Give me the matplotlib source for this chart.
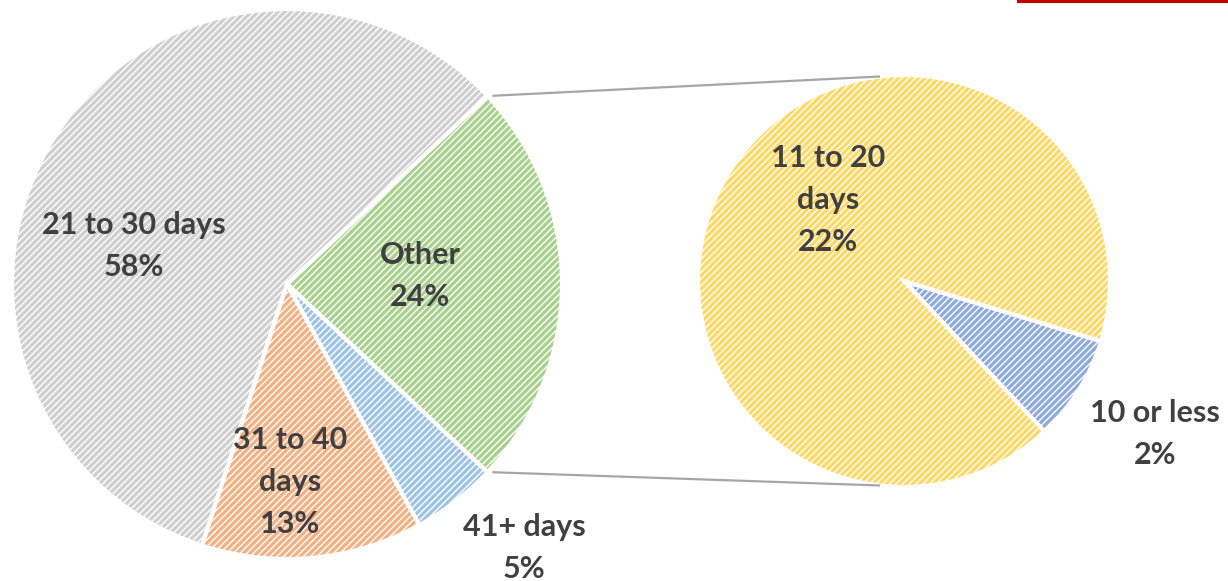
import numpy as np
import matplotlib
matplotlib.use("Agg")
import matplotlib.pyplot as plt

plt.rcParams['font.family'] = ['Lato', 'DejaVu Sans']
plt.rcParams['hatch.linewidth'] = 1.0

# main pie (counter-clockwise from the start angle)
main_labels = ["Other", "21 to 30 days", "31 to 40\ndays", "41+ days"]
main_values = [24, 58, 13, 5]
main_colors = ["#a9d18e", "#cfcfcf", "#f4b183", "#9dc3e6"]

# split of "Other"
sub_labels = ["10 or less", "11 to 20\ndays"]
sub_values = [2, 22]
sub_colors = ["#8faadc", "#ffd966"]

W, H = 1228, 581
fig = plt.figure(figsize=(W / 100, H / 100), dpi=100)
ax = fig.add_axes([0, 0, 1, 1])

c1, r1 = (287, 297), 275
c2, r2 = (904, 300), 206

other_angle = main_values[0] / sum(main_values) * 360
w1, _ = ax.pie(main_values, colors=main_colors, center=c1, radius=r1,
               startangle=-other_angle / 2, counterclock=True, frame=True,
               wedgeprops=dict(edgecolor='white', linewidth=3, hatch='/////'))
w2, _ = ax.pie(sub_values, colors=sub_colors, center=c2, radius=r2,
               startangle=-47, counterclock=True, frame=True,
               wedgeprops=dict(edgecolor='white', linewidth=3, hatch='/////'))
ax.set_xlim(0, W)
ax.set_ylim(0, H)
ax.set_aspect('equal')
ax.axis('off')

# connector lines
for sgn in (1, -1):
    a = np.deg2rad(sgn * other_angle / 2)
    x0, y0 = c1[0] + r1 * np.cos(a), c1[1] + r1 * np.sin(a)
    b = np.deg2rad(sgn * 97)
    x1, y1 = c2[0] + r2 * np.cos(b), c2[1] + r2 * np.sin(b)
    ax.plot([x0 + 6, x1], [y0, y1], color='#a6a6a6', lw=1.6)

# data labels
txt = dict(ha='center', va='center', fontsize=22, fontweight='bold',
           color='#404040', linespacing=1.6)
pos_main = [(420, 305), (134, 335), (290, 99), (524, 33)]
pos_sub = [(1155, 147), (828, 381)]
for lab, v, (x, y) in zip(main_labels, main_values, pos_main):
    ax.text(x, y, f"{lab}\n{v}%", **txt)
for lab, v, (x, y) in zip(sub_labels, sub_values, pos_sub):
    ax.text(x, y, f"{lab}\n{v}%", **txt)

# red rule fragment at top right
ax.plot([1017, W], [H - 1, H - 1], color='#c00000', lw=3, solid_capstyle='butt')

fig.savefig("out.png", dpi=100)
